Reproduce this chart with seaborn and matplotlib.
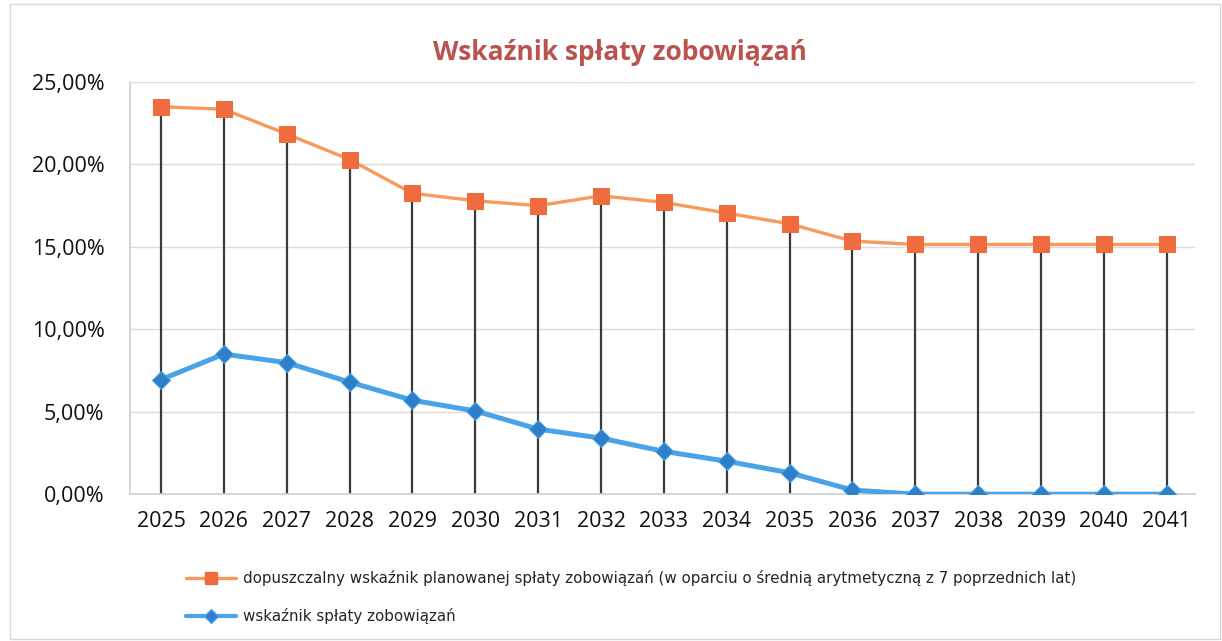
import pandas as pd
import matplotlib.pyplot as plt
import seaborn as sns
from matplotlib.lines import Line2D
from matplotlib.ticker import FuncFormatter

# ===============================================
# Dane
# ===============================================
years = list(range(2025, 2042))
dopuszczalny = [23.5, 23.35, 21.85, 20.3, 18.25, 17.8, 17.5, 18.1, 17.7,
                17.05, 16.4, 15.35, 15.15, 15.15, 15.15, 15.15, 15.15]
wskaznik = [6.95, 8.5, 7.98, 6.8, 5.7, 5.05, 3.95, 3.4, 2.6,
            2.0, 1.3, 0.25, 0.0, 0.0, 0.0, 0.0, 0.0]

label_dop = ("dopuszczalny wskaźnik planowanej spłaty zobowiązań "
             "(w oparciu o średnią arytmetyczną z 7 poprzednich lat)")
label_wsk = "wskaźnik spłaty zobowiązań"

df = pd.DataFrame({"rok": years, "dop": dopuszczalny, "wsk": wskaznik})

sns.set_theme(style="white")
plt.rcParams['font.family'] = ['Open Sans', 'DejaVu Sans']

orange_line, orange_mark = "#F79A5B", "#EF6C3E"
blue_line, blue_mark = "#4AA3E6", "#2D7FC9"

fig = plt.figure(figsize=(12.22, 6.41), dpi=100)
ax = fig.add_axes([0.106, 0.229, 0.872, 0.643])

# linie spadku (drop lines) od wartości dopuszczalnej do osi
ax.vlines(df["rok"], 0, df["dop"], color="#3a3a3a", lw=1.6, zorder=1)

sns.lineplot(data=df, x="rok", y="dop", ax=ax, color=orange_line, lw=2.4,
             marker="s", markersize=11, markerfacecolor=orange_mark,
             markeredgecolor=orange_mark, zorder=3)
sns.lineplot(data=df, x="rok", y="wsk", ax=ax, color=blue_line, lw=3.6,
             marker="D", markersize=9, markerfacecolor=blue_mark,
             markeredgecolor=blue_line, zorder=3)

ax.set_xlim(2024.5, 2041.45)
ax.set_ylim(0, 25)
ax.set_yticks([0, 5, 10, 15, 20, 25])
ax.yaxis.set_major_formatter(FuncFormatter(lambda v, p: f"{v:.2f}%".replace(".", ",")))
ax.set_xticks(years)
ax.set_xticklabels([str(y) for y in years])
ax.tick_params(axis="both", length=0, labelsize=15.5, colors="#111111")
ax.tick_params(axis="x", pad=12)
ax.tick_params(axis="y", pad=18)
for t in ax.get_xticklabels() + ax.get_yticklabels():
    t.set_fontweight("medium")
ax.set_xlabel("")
ax.set_ylabel("")
ax.grid(axis="y", color="#dcdcdc", lw=1)
for s in ["top", "right"]:
    ax.spines[s].set_visible(False)
ax.spines["left"].set_color("#d0d0d0")
ax.spines["bottom"].set_color("#d0d0d0")

fig.text(0.507, 0.918, "Wskaźnik spłaty zobowiązań", ha="center", va="center",
         fontsize=19, fontweight="bold", color="#B9534E")

handles = [
    Line2D([], [], color=orange_line, lw=2.4, marker="s", markersize=9,
           markerfacecolor=orange_mark, markeredgecolor=orange_mark),
    Line2D([], [], color=blue_line, lw=3.0, marker="D", markersize=7,
           markerfacecolor=blue_mark, markeredgecolor=blue_line),
]
fig.legend(handles, [label_dop, label_wsk], loc="upper left",
           bbox_to_anchor=(0.141, 0.132), frameon=False, handlelength=3.3,
           labelspacing=1.45, handletextpad=0.45,
           prop={"family": ["Liberation Sans Narrow", "DejaVu Sans"], "size": 10.9})

fig.add_artist(plt.Rectangle((0.008, 0.003), 0.99, 0.99, fill=False,
                             edgecolor="#d8d8d8", lw=1, transform=fig.transFigure))

fig.savefig("out.png", dpi=100)
